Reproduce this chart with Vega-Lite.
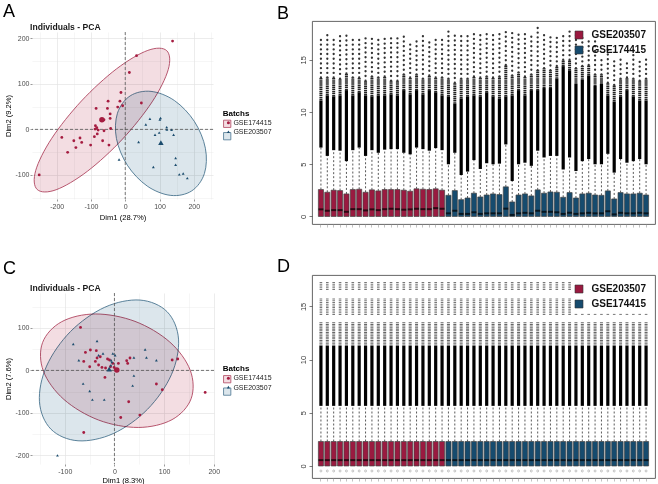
{
  "$schema": "https://vega.github.io/schema/vega-lite/v6.json",
  "background": "white",
  "padding": {"left": 2, "top": 3, "right": 0, "bottom": 0},
  "config": {
    "font": "Liberation Sans",
    "locale": {"number": {"decimal": ".", "thousands": ",", "grouping": [3], "currency": ["$", ""], "minus": "-"}},
    "view": {"stroke": null},
    "title": {"font": "Liberation Sans", "color": "#000"},
    "axis": {"labelFont": "Liberation Sans", "titleFont": "Liberation Sans"},
    "legend": {"labelFont": "Liberation Sans", "titleFont": "Liberation Sans"}
  },
  "datasets": {
    "origin": [{"x0": 0, "y0": 0}],
    "pcaA": [
      {"dim1": 138, "dim2": 194, "batch": "GSE174415", "kind": "ind"},
      {"dim1": 33, "dim2": 162, "batch": "GSE174415", "kind": "ind"},
      {"dim1": 12, "dim2": 125, "batch": "GSE174415", "kind": "ind"},
      {"dim1": -12.5, "dim2": 81, "batch": "GSE174415", "kind": "ind"},
      {"dim1": -50, "dim2": 62, "batch": "GSE174415", "kind": "ind"},
      {"dim1": -15.5, "dim2": 62, "batch": "GSE174415", "kind": "ind"},
      {"dim1": 47, "dim2": 58, "batch": "GSE174415", "kind": "ind"},
      {"dim1": -7.6, "dim2": 52, "batch": "GSE174415", "kind": "ind"},
      {"dim1": -22, "dim2": 49, "batch": "GSE174415", "kind": "ind"},
      {"dim1": -85, "dim2": 46, "batch": "GSE174415", "kind": "ind"},
      {"dim1": -52, "dim2": 46, "batch": "GSE174415", "kind": "ind"},
      {"dim1": -44, "dim2": 34, "batch": "GSE174415", "kind": "ind"},
      {"dim1": -62, "dim2": 21, "batch": "GSE174415", "kind": "ind"},
      {"dim1": -70, "dim2": 20, "batch": "GSE174415", "kind": "ind"},
      {"dim1": -44, "dim2": 24, "batch": "GSE174415", "kind": "ind"},
      {"dim1": -87, "dim2": 8, "batch": "GSE174415", "kind": "ind"},
      {"dim1": -83, "dim2": 3.5, "batch": "GSE174415", "kind": "ind"},
      {"dim1": -88, "dim2": 0.7, "batch": "GSE174415", "kind": "ind"},
      {"dim1": -79, "dim2": -1.5, "batch": "GSE174415", "kind": "ind"},
      {"dim1": -42.6, "dim2": 2, "batch": "GSE174415", "kind": "ind"},
      {"dim1": -62, "dim2": -3, "batch": "GSE174415", "kind": "ind"},
      {"dim1": -81.6, "dim2": -10, "batch": "GSE174415", "kind": "ind"},
      {"dim1": -185, "dim2": -17.6, "batch": "GSE174415", "kind": "ind"},
      {"dim1": -132, "dim2": -19, "batch": "GSE174415", "kind": "ind"},
      {"dim1": -150, "dim2": -25, "batch": "GSE174415", "kind": "ind"},
      {"dim1": -127, "dim2": -28.6, "batch": "GSE174415", "kind": "ind"},
      {"dim1": -90, "dim2": -16, "batch": "GSE174415", "kind": "ind"},
      {"dim1": -66, "dim2": -25, "batch": "GSE174415", "kind": "ind"},
      {"dim1": -101, "dim2": -34.5, "batch": "GSE174415", "kind": "ind"},
      {"dim1": -47.5, "dim2": -34.5, "batch": "GSE174415", "kind": "ind"},
      {"dim1": -144, "dim2": -40, "batch": "GSE174415", "kind": "ind"},
      {"dim1": -168, "dim2": -50.5, "batch": "GSE174415", "kind": "ind"},
      {"dim1": -251, "dim2": -100, "batch": "GSE174415", "kind": "ind"},
      {"dim1": -68, "dim2": 21, "batch": "GSE174415", "kind": "mean"},
      {"dim1": 72, "dim2": 22.6, "batch": "GSE203507", "kind": "ind"},
      {"dim1": 103, "dim2": 24, "batch": "GSE203507", "kind": "ind"},
      {"dim1": 101, "dim2": 21, "batch": "GSE203507", "kind": "ind"},
      {"dim1": 60, "dim2": 10, "batch": "GSE203507", "kind": "ind"},
      {"dim1": 121, "dim2": 4, "batch": "GSE203507", "kind": "ind"},
      {"dim1": 121.5, "dim2": -1, "batch": "GSE203507", "kind": "ind"},
      {"dim1": 135, "dim2": -1.5, "batch": "GSE203507", "kind": "ind"},
      {"dim1": 99, "dim2": -8, "batch": "GSE203507", "kind": "ind"},
      {"dim1": 87, "dim2": -12.5, "batch": "GSE203507", "kind": "ind"},
      {"dim1": 141, "dim2": -12.5, "batch": "GSE203507", "kind": "ind"},
      {"dim1": 39, "dim2": -28.6, "batch": "GSE203507", "kind": "ind"},
      {"dim1": -18, "dim2": -67, "batch": "GSE203507", "kind": "ind"},
      {"dim1": 147, "dim2": -64, "batch": "GSE203507", "kind": "ind"},
      {"dim1": 82, "dim2": -83.5, "batch": "GSE203507", "kind": "ind"},
      {"dim1": 147, "dim2": -78.5, "batch": "GSE203507", "kind": "ind"},
      {"dim1": 157.6, "dim2": -99.8, "batch": "GSE203507", "kind": "ind"},
      {"dim1": 169, "dim2": -98, "batch": "GSE203507", "kind": "ind"},
      {"dim1": 181, "dim2": -108, "batch": "GSE203507", "kind": "ind"},
      {"dim1": 104, "dim2": -31, "batch": "GSE203507", "kind": "mean"}
    ],
    "ellA": [
      {"batch": "GSE174415", "k": 0, "dim1": 121, "dim2": 173},
      {"batch": "GSE174415", "k": 1, "dim1": 125.4, "dim2": 131.4},
      {"batch": "GSE174415", "k": 2, "dim1": 78.4, "dim2": 60.4},
      {"batch": "GSE174415", "k": 3, "dim1": -8.2, "dim2": -21.5},
      {"batch": "GSE174415", "k": 4, "dim1": -110.5, "dim2": -92.1},
      {"batch": "GSE174415", "k": 5, "dim1": -201.7, "dim2": -132.7},
      {"batch": "GSE174415", "k": 6, "dim1": -256.9, "dim2": -132.1},
      {"batch": "GSE174415", "k": 7, "dim1": -261.2, "dim2": -90.5},
      {"batch": "GSE174415", "k": 8, "dim1": -214.3, "dim2": -19.6},
      {"batch": "GSE174415", "k": 9, "dim1": -127.7, "dim2": 62.4},
      {"batch": "GSE174415", "k": 10, "dim1": -25.4, "dim2": 133},
      {"batch": "GSE174415", "k": 11, "dim1": 65.9, "dim2": 173.6},
      {"batch": "GSE203507", "k": 0, "dim1": 193.9, "dim2": -135.2},
      {"batch": "GSE203507", "k": 1, "dim1": 132.9, "dim2": -145.1},
      {"batch": "GSE203507", "k": 2, "dim1": 64.1, "dim2": -124.6},
      {"batch": "GSE203507", "k": 3, "dim1": 6.1, "dim2": -78.7},
      {"batch": "GSE203507", "k": 4, "dim1": -25.7, "dim2": -20},
      {"batch": "GSE203507", "k": 5, "dim1": -22.7, "dim2": 35.6},
      {"batch": "GSE203507", "k": 6, "dim1": 14.3, "dim2": 73.6},
      {"batch": "GSE203507", "k": 7, "dim1": 75.2, "dim2": 83.5},
      {"batch": "GSE203507", "k": 8, "dim1": 144, "dim2": 63.1},
      {"batch": "GSE203507", "k": 9, "dim1": 202, "dim2": 17.1},
      {"batch": "GSE203507", "k": 10, "dim1": 233.8, "dim2": -41.5},
      {"batch": "GSE203507", "k": 11, "dim1": 230.9, "dim2": -97.1}
    ],
    "pcaC": [
      {"dim1": -68.3, "dim2": 101, "batch": "GSE174415", "kind": "ind"},
      {"dim1": -58.4, "dim2": 42.4, "batch": "GSE174415", "kind": "ind"},
      {"dim1": -48.4, "dim2": 48, "batch": "GSE174415", "kind": "ind"},
      {"dim1": -36.5, "dim2": 46.4, "batch": "GSE174415", "kind": "ind"},
      {"dim1": -61.8, "dim2": 21.2, "batch": "GSE174415", "kind": "ind"},
      {"dim1": -49.8, "dim2": 8.7, "batch": "GSE174415", "kind": "ind"},
      {"dim1": -38.4, "dim2": 21.2, "batch": "GSE174415", "kind": "ind"},
      {"dim1": -35, "dim2": 29.2, "batch": "GSE174415", "kind": "ind"},
      {"dim1": -28.5, "dim2": 32.2, "batch": "GSE174415", "kind": "ind"},
      {"dim1": -31.9, "dim2": 12.7, "batch": "GSE174415", "kind": "ind"},
      {"dim1": -25.1, "dim2": 7.1, "batch": "GSE174415", "kind": "ind"},
      {"dim1": -13.9, "dim2": 26.8, "batch": "GSE174415", "kind": "ind"},
      {"dim1": -10, "dim2": 24.5, "batch": "GSE174415", "kind": "ind"},
      {"dim1": -17.9, "dim2": 5.6, "batch": "GSE174415", "kind": "ind"},
      {"dim1": -8, "dim2": 8.7, "batch": "GSE174415", "kind": "ind"},
      {"dim1": -3.2, "dim2": 16.5, "batch": "GSE174415", "kind": "ind"},
      {"dim1": 8, "dim2": 16.5, "batch": "GSE174415", "kind": "ind"},
      {"dim1": -0.6, "dim2": 7.1, "batch": "GSE174415", "kind": "ind"},
      {"dim1": -19.1, "dim2": -16.5, "batch": "GSE174415", "kind": "ind"},
      {"dim1": 24.7, "dim2": 22.8, "batch": "GSE174415", "kind": "ind"},
      {"dim1": 26.7, "dim2": 16.5, "batch": "GSE174415", "kind": "ind"},
      {"dim1": 31.3, "dim2": 29.2, "batch": "GSE174415", "kind": "ind"},
      {"dim1": 116.3, "dim2": 24.5, "batch": "GSE174415", "kind": "ind"},
      {"dim1": 127.5, "dim2": 26.8, "batch": "GSE174415", "kind": "ind"},
      {"dim1": 84.5, "dim2": -32, "batch": "GSE174415", "kind": "ind"},
      {"dim1": 96.4, "dim2": -45.4, "batch": "GSE174415", "kind": "ind"},
      {"dim1": 28.7, "dim2": -73.6, "batch": "GSE174415", "kind": "ind"},
      {"dim1": 12.7, "dim2": -110.6, "batch": "GSE174415", "kind": "ind"},
      {"dim1": 51.2, "dim2": -105, "batch": "GSE174415", "kind": "ind"},
      {"dim1": 182.7, "dim2": -51.8, "batch": "GSE174415", "kind": "ind"},
      {"dim1": -61.8, "dim2": -145.9, "batch": "GSE174415", "kind": "ind"},
      {"dim1": 4.8, "dim2": 1, "batch": "GSE174415", "kind": "mean"},
      {"dim1": -82.9, "dim2": 61, "batch": "GSE203507", "kind": "ind"},
      {"dim1": -35, "dim2": 68.2, "batch": "GSE203507", "kind": "ind"},
      {"dim1": -71.7, "dim2": 22.8, "batch": "GSE203507", "kind": "ind"},
      {"dim1": -31.9, "dim2": 34.6, "batch": "GSE203507", "kind": "ind"},
      {"dim1": -23, "dim2": 38.6, "batch": "GSE203507", "kind": "ind"},
      {"dim1": -3.2, "dim2": 38.6, "batch": "GSE203507", "kind": "ind"},
      {"dim1": 1.4, "dim2": 34.6, "batch": "GSE203507", "kind": "ind"},
      {"dim1": -6.6, "dim2": 22.8, "batch": "GSE203507", "kind": "ind"},
      {"dim1": -5.2, "dim2": 18.8, "batch": "GSE203507", "kind": "ind"},
      {"dim1": -7.2, "dim2": 11, "batch": "GSE203507", "kind": "ind"},
      {"dim1": 39.2, "dim2": 29.2, "batch": "GSE203507", "kind": "ind"},
      {"dim1": 61.8, "dim2": 48, "batch": "GSE203507", "kind": "ind"},
      {"dim1": 64.5, "dim2": 29.2, "batch": "GSE203507", "kind": "ind"},
      {"dim1": 84.5, "dim2": 22.8, "batch": "GSE203507", "kind": "ind"},
      {"dim1": -63, "dim2": -32, "batch": "GSE203507", "kind": "ind"},
      {"dim1": -49.8, "dim2": -49.4, "batch": "GSE203507", "kind": "ind"},
      {"dim1": -44.4, "dim2": -69.6, "batch": "GSE203507", "kind": "ind"},
      {"dim1": -20.5, "dim2": -69.6, "batch": "GSE203507", "kind": "ind"},
      {"dim1": 39.2, "dim2": -13.2, "batch": "GSE203507", "kind": "ind"},
      {"dim1": 36.7, "dim2": -36.7, "batch": "GSE203507", "kind": "ind"},
      {"dim1": -114.7, "dim2": -200.7, "batch": "GSE203507", "kind": "ind"},
      {"dim1": -10.6, "dim2": 1, "batch": "GSE203507", "kind": "mean"}
    ],
    "ellC": [
      {"batch": "GSE174415", "k": 0, "dim1": 154.4, "dim2": -66.6},
      {"batch": "GSE174415", "k": 1, "dim1": 115.9, "dim2": -115.8},
      {"batch": "GSE174415", "k": 2, "dim1": 48, "dim2": -134.1},
      {"batch": "GSE174415", "k": 3, "dim1": -31.9, "dim2": -116.7},
      {"batch": "GSE174415", "k": 4, "dim1": -101.8, "dim2": -68.2},
      {"batch": "GSE174415", "k": 5, "dim1": -143, "dim2": -1.9},
      {"batch": "GSE174415", "k": 6, "dim1": -144.8, "dim2": 65.2},
      {"batch": "GSE174415", "k": 7, "dim1": -106.4, "dim2": 114.4},
      {"batch": "GSE174415", "k": 8, "dim1": -38.4, "dim2": 132.7},
      {"batch": "GSE174415", "k": 9, "dim1": 41.4, "dim2": 115.3},
      {"batch": "GSE174415", "k": 10, "dim1": 111.4, "dim2": 66.8},
      {"batch": "GSE174415", "k": 11, "dim1": 152.6, "dim2": 0.5},
      {"batch": "GSE203507", "k": 0, "dim1": 106, "dim2": 138.1},
      {"batch": "GSE203507", "k": 1, "dim1": 129.1, "dim2": 73.6},
      {"batch": "GSE203507", "k": 2, "dim1": 114.7, "dim2": -10.1},
      {"batch": "GSE203507", "k": 3, "dim1": 66.5, "dim2": -91.5},
      {"batch": "GSE203507", "k": 4, "dim1": -2.4, "dim2": -148.5},
      {"batch": "GSE203507", "k": 5, "dim1": -73.3, "dim2": -165.4},
      {"batch": "GSE203507", "k": 6, "dim1": -127.9, "dim2": -138.1},
      {"batch": "GSE203507", "k": 7, "dim1": -151, "dim2": -73.6},
      {"batch": "GSE203507", "k": 8, "dim1": -136.7, "dim2": 10.1},
      {"batch": "GSE203507", "k": 9, "dim1": -88.4, "dim2": 91.5},
      {"batch": "GSE203507", "k": 10, "dim1": -19.5, "dim2": 148.5},
      {"batch": "GSE203507", "k": 11, "dim1": 51.4, "dim2": 165.4}
    ],
    "boxB": [
      {"idx": 1, "batch": "GSE203507", "q1": 0, "med": 0.68, "q3": 2.58, "whisker": 6.6, "dense": 11.1, "mid": 13.3, "top": 17.2},
      {"idx": 2, "batch": "GSE203507", "q1": 0, "med": 0.55, "q3": 2.32, "whisker": 5.8, "dense": 11.6, "mid": 13.3, "top": 17.4},
      {"idx": 3, "batch": "GSE203507", "q1": 0, "med": 0.61, "q3": 2.52, "whisker": 6.35, "dense": 11.5, "mid": 13.3, "top": 17.3},
      {"idx": 4, "batch": "GSE203507", "q1": 0, "med": 0.61, "q3": 2.48, "whisker": 6.3, "dense": 11.6, "mid": 13.2, "top": 17.5},
      {"idx": 5, "batch": "GSE203507", "q1": 0, "med": 0.45, "q3": 2.16, "whisker": 5.3, "dense": 12.1, "mid": 13.7, "top": 17.5},
      {"idx": 6, "batch": "GSE203507", "q1": 0, "med": 0.7, "q3": 2.58, "whisker": 6.35, "dense": 11.6, "mid": 13.3, "top": 17.1},
      {"idx": 7, "batch": "GSE203507", "q1": 0, "med": 0.7, "q3": 2.61, "whisker": 6.6, "dense": 11.9, "mid": 13.3, "top": 17.1},
      {"idx": 8, "batch": "GSE203507", "q1": 0, "med": 0.58, "q3": 2.32, "whisker": 5.8, "dense": 11.6, "mid": 13.0, "top": 17.4},
      {"idx": 9, "batch": "GSE203507", "q1": 0, "med": 0.68, "q3": 2.55, "whisker": 6.35, "dense": 11.5, "mid": 13.4, "top": 17.4},
      {"idx": 10, "batch": "GSE203507", "q1": 0, "med": 0.61, "q3": 2.45, "whisker": 6.1, "dense": 11.6, "mid": 13.3, "top": 17.2},
      {"idx": 11, "batch": "GSE203507", "q1": 0, "med": 0.7, "q3": 2.58, "whisker": 6.4, "dense": 11.6, "mid": 13.4, "top": 17.1},
      {"idx": 12, "batch": "GSE203507", "q1": 0, "med": 0.74, "q3": 2.58, "whisker": 6.45, "dense": 11.7, "mid": 13.0, "top": 17.1},
      {"idx": 13, "batch": "GSE203507", "q1": 0, "med": 0.7, "q3": 2.58, "whisker": 6.45, "dense": 11.6, "mid": 13.0, "top": 17.1},
      {"idx": 14, "batch": "GSE203507", "q1": 0, "med": 0.65, "q3": 2.52, "whisker": 6.1, "dense": 12.1, "mid": 13.6, "top": 17.6},
      {"idx": 15, "batch": "GSE203507", "q1": 0, "med": 0.68, "q3": 2.42, "whisker": 5.95, "dense": 11.7, "mid": 13.3, "top": 16.9},
      {"idx": 16, "batch": "GSE203507", "q1": 0, "med": 0.74, "q3": 2.65, "whisker": 6.6, "dense": 12.1, "mid": 13.6, "top": 17.1},
      {"idx": 17, "batch": "GSE203507", "q1": 0, "med": 0.7, "q3": 2.61, "whisker": 6.45, "dense": 11.7, "mid": 13.2, "top": 17.3},
      {"idx": 18, "batch": "GSE203507", "q1": 0, "med": 0.7, "q3": 2.58, "whisker": 6.3, "dense": 12.1, "mid": 13.5, "top": 17.0},
      {"idx": 19, "batch": "GSE203507", "q1": 0, "med": 0.8, "q3": 2.65, "whisker": 6.55, "dense": 11.9, "mid": 13.3, "top": 17.2},
      {"idx": 20, "batch": "GSE203507", "q1": 0, "med": 0.74, "q3": 2.52, "whisker": 6.35, "dense": 11.6, "mid": 13.3, "top": 17.3},
      {"idx": 21, "batch": "GSE174415", "q1": 0, "med": 0.3, "q3": 2.03, "whisker": 5.0, "dense": 11.5, "mid": 13.2, "top": 17.8},
      {"idx": 22, "batch": "GSE174415", "q1": 0, "med": 0.55, "q3": 2.48, "whisker": 6.1, "dense": 10.8, "mid": 12.8, "top": 17.4},
      {"idx": 23, "batch": "GSE174415", "q1": 0, "med": 0.25, "q3": 1.61, "whisker": 3.97, "dense": 11.3, "mid": 13.2, "top": 17.6},
      {"idx": 24, "batch": "GSE174415", "q1": 0, "med": 0.25, "q3": 1.77, "whisker": 4.3, "dense": 11.5, "mid": 13.2, "top": 17.6},
      {"idx": 25, "batch": "GSE174415", "q1": 0, "med": 0.4, "q3": 2.23, "whisker": 5.4, "dense": 11.6, "mid": 13.4, "top": 17.6},
      {"idx": 26, "batch": "GSE174415", "q1": 0, "med": 0.25, "q3": 1.87, "whisker": 4.55, "dense": 11.5, "mid": 13.3, "top": 17.5},
      {"idx": 27, "batch": "GSE174415", "q1": 0, "med": 0.3, "q3": 2.06, "whisker": 5.1, "dense": 11.9, "mid": 13.4, "top": 17.5},
      {"idx": 28, "batch": "GSE174415", "q1": 0, "med": 0.3, "q3": 2.16, "whisker": 5.0, "dense": 11.5, "mid": 13.3, "top": 17.5},
      {"idx": 29, "batch": "GSE174415", "q1": 0, "med": 0.3, "q3": 2.1, "whisker": 5.06, "dense": 11.3, "mid": 13.4, "top": 17.8},
      {"idx": 30, "batch": "GSE174415", "q1": 0, "med": 0.75, "q3": 2.84, "whisker": 6.9, "dense": 11.5, "mid": 14.5, "top": 17.9},
      {"idx": 31, "batch": "GSE174415", "q1": 0, "med": 0.15, "q3": 1.39, "whisker": 3.4, "dense": 11.6, "mid": 13.5, "top": 17.7},
      {"idx": 32, "batch": "GSE174415", "q1": 0, "med": 0.3, "q3": 2.06, "whisker": 5.0, "dense": 12.1, "mid": 13.8, "top": 17.5},
      {"idx": 33, "batch": "GSE174415", "q1": 0, "med": 0.35, "q3": 2.16, "whisker": 5.15, "dense": 11.6, "mid": 13.4, "top": 17.5},
      {"idx": 34, "batch": "GSE174415", "q1": 0, "med": 0.3, "q3": 1.97, "whisker": 4.85, "dense": 12.1, "mid": 13.6, "top": 17.4},
      {"idx": 35, "batch": "GSE174415", "q1": 0, "med": 0.55, "q3": 2.55, "whisker": 6.3, "dense": 12.1, "mid": 14.0, "top": 18.2},
      {"idx": 36, "batch": "GSE174415", "q1": 0, "med": 0.45, "q3": 2.23, "whisker": 5.65, "dense": 12.3, "mid": 14.2, "top": 17.4},
      {"idx": 37, "batch": "GSE174415", "q1": 0, "med": 0.45, "q3": 2.35, "whisker": 5.8, "dense": 12.3, "mid": 14.0, "top": 17.5},
      {"idx": 38, "batch": "GSE174415", "q1": 0, "med": 0.4, "q3": 2.32, "whisker": 5.8, "dense": 13.2, "mid": 14.4, "top": 17.3},
      {"idx": 39, "batch": "GSE174415", "q1": 0, "med": 0.25, "q3": 1.84, "whisker": 4.5, "dense": 14.4, "mid": 15.0, "top": 17.7},
      {"idx": 40, "batch": "GSE174415", "q1": 0, "med": 0.35, "q3": 2.29, "whisker": 5.65, "dense": 14.0, "mid": 15.0, "top": 17.8},
      {"idx": 41, "batch": "GSE174415", "q1": 0, "med": 0.25, "q3": 1.77, "whisker": 4.35, "dense": 12.7, "mid": 14.2, "top": 17.4},
      {"idx": 42, "batch": "GSE174415", "q1": 0, "med": 0.3, "q3": 2.16, "whisker": 5.3, "dense": 13.1, "mid": 14.4, "top": 17.5},
      {"idx": 43, "batch": "GSE174415", "q1": 0, "med": 0.35, "q3": 2.23, "whisker": 5.5, "dense": 13.5, "mid": 14.5, "top": 16.9},
      {"idx": 44, "batch": "GSE174415", "q1": 0, "med": 0.3, "q3": 2.06, "whisker": 5.0, "dense": 12.5, "mid": 13.6, "top": 17.1},
      {"idx": 45, "batch": "GSE174415", "q1": 0, "med": 0.3, "q3": 2.03, "whisker": 5.0, "dense": 12.7, "mid": 13.6, "top": 15.3},
      {"idx": 46, "batch": "GSE174415", "q1": 0, "med": 0.5, "q3": 2.45, "whisker": 6.0, "dense": 11.6, "mid": 12.8, "top": 16.0},
      {"idx": 47, "batch": "GSE174415", "q1": 0, "med": 0.2, "q3": 1.68, "whisker": 4.2, "dense": 11.0, "mid": 12.6, "top": 15.1},
      {"idx": 48, "batch": "GSE174415", "q1": 0, "med": 0.35, "q3": 2.29, "whisker": 5.5, "dense": 11.5, "mid": 13.2, "top": 15.1},
      {"idx": 49, "batch": "GSE174415", "q1": 0, "med": 0.3, "q3": 2.16, "whisker": 5.15, "dense": 12.1, "mid": 13.3, "top": 15.1},
      {"idx": 50, "batch": "GSE174415", "q1": 0, "med": 0.3, "q3": 2.16, "whisker": 5.3, "dense": 11.5, "mid": 13.2, "top": 16.0},
      {"idx": 51, "batch": "GSE174415", "q1": 0, "med": 0.35, "q3": 2.23, "whisker": 5.5, "dense": 11.1, "mid": 13.0, "top": 15.1},
      {"idx": 52, "batch": "GSE174415", "q1": 0, "med": 0.3, "q3": 2.06, "whisker": 5.0, "dense": 11.1, "mid": 13.2, "top": 15.2}
    ],
    "boxD": [
      {"idx": 1, "batch": "GSE203507", "q1": 0, "med": 0.55, "q3": 2.3, "whisker": 5.65, "dense": 11.3, "grey": 13.55, "o2lo": 14.2, "o2hi": 15.75, "o3lo": 16.55, "o3hi": 17.3, "low": -0.47},
      {"idx": 2, "batch": "GSE203507", "q1": 0, "med": 0.55, "q3": 2.3, "whisker": 5.65, "dense": 11.3, "grey": 13.55, "o2lo": 14.2, "o2hi": 15.75, "o3lo": 16.55, "o3hi": 17.3, "low": -0.47},
      {"idx": 3, "batch": "GSE203507", "q1": 0, "med": 0.55, "q3": 2.3, "whisker": 5.65, "dense": 11.3, "grey": 13.55, "o2lo": 14.2, "o2hi": 15.75, "o3lo": 16.55, "o3hi": 17.3, "low": -0.47},
      {"idx": 4, "batch": "GSE203507", "q1": 0, "med": 0.55, "q3": 2.3, "whisker": 5.65, "dense": 11.3, "grey": 13.55, "o2lo": 14.2, "o2hi": 15.75, "o3lo": 16.55, "o3hi": 17.3, "low": -0.47},
      {"idx": 5, "batch": "GSE203507", "q1": 0, "med": 0.55, "q3": 2.3, "whisker": 5.65, "dense": 11.3, "grey": 13.55, "o2lo": 14.2, "o2hi": 15.75, "o3lo": 16.55, "o3hi": 17.3, "low": -0.47},
      {"idx": 6, "batch": "GSE203507", "q1": 0, "med": 0.55, "q3": 2.3, "whisker": 5.65, "dense": 11.3, "grey": 13.55, "o2lo": 14.2, "o2hi": 15.75, "o3lo": 16.55, "o3hi": 17.3, "low": -0.47},
      {"idx": 7, "batch": "GSE203507", "q1": 0, "med": 0.55, "q3": 2.3, "whisker": 5.65, "dense": 11.3, "grey": 13.55, "o2lo": 14.2, "o2hi": 15.75, "o3lo": 16.55, "o3hi": 17.3, "low": -0.47},
      {"idx": 8, "batch": "GSE203507", "q1": 0, "med": 0.55, "q3": 2.3, "whisker": 5.65, "dense": 11.3, "grey": 13.55, "o2lo": 14.2, "o2hi": 15.75, "o3lo": 16.55, "o3hi": 17.3, "low": -0.47},
      {"idx": 9, "batch": "GSE203507", "q1": 0, "med": 0.55, "q3": 2.3, "whisker": 5.65, "dense": 11.3, "grey": 13.55, "o2lo": 14.2, "o2hi": 15.75, "o3lo": 16.55, "o3hi": 17.3, "low": -0.47},
      {"idx": 10, "batch": "GSE203507", "q1": 0, "med": 0.55, "q3": 2.3, "whisker": 5.65, "dense": 11.3, "grey": 13.55, "o2lo": 14.2, "o2hi": 15.75, "o3lo": 16.55, "o3hi": 17.3, "low": -0.47},
      {"idx": 11, "batch": "GSE203507", "q1": 0, "med": 0.55, "q3": 2.3, "whisker": 5.65, "dense": 11.3, "grey": 13.55, "o2lo": 14.2, "o2hi": 15.75, "o3lo": 16.55, "o3hi": 17.3, "low": -0.47},
      {"idx": 12, "batch": "GSE203507", "q1": 0, "med": 0.55, "q3": 2.3, "whisker": 5.65, "dense": 11.3, "grey": 13.55, "o2lo": 14.2, "o2hi": 15.75, "o3lo": 16.55, "o3hi": 17.3, "low": -0.47},
      {"idx": 13, "batch": "GSE203507", "q1": 0, "med": 0.55, "q3": 2.3, "whisker": 5.65, "dense": 11.3, "grey": 13.55, "o2lo": 14.2, "o2hi": 15.75, "o3lo": 16.55, "o3hi": 17.3, "low": -0.47},
      {"idx": 14, "batch": "GSE203507", "q1": 0, "med": 0.55, "q3": 2.3, "whisker": 5.65, "dense": 11.3, "grey": 13.55, "o2lo": 14.2, "o2hi": 15.75, "o3lo": 16.55, "o3hi": 17.3, "low": -0.47},
      {"idx": 15, "batch": "GSE203507", "q1": 0, "med": 0.55, "q3": 2.3, "whisker": 5.65, "dense": 11.3, "grey": 13.55, "o2lo": 14.2, "o2hi": 15.75, "o3lo": 16.55, "o3hi": 17.3, "low": -0.47},
      {"idx": 16, "batch": "GSE203507", "q1": 0, "med": 0.55, "q3": 2.3, "whisker": 5.65, "dense": 11.3, "grey": 13.55, "o2lo": 14.2, "o2hi": 15.75, "o3lo": 16.55, "o3hi": 17.3, "low": -0.47},
      {"idx": 17, "batch": "GSE203507", "q1": 0, "med": 0.55, "q3": 2.3, "whisker": 5.65, "dense": 11.3, "grey": 13.55, "o2lo": 14.2, "o2hi": 15.75, "o3lo": 16.55, "o3hi": 17.3, "low": -0.47},
      {"idx": 18, "batch": "GSE203507", "q1": 0, "med": 0.55, "q3": 2.3, "whisker": 5.65, "dense": 11.3, "grey": 13.55, "o2lo": 14.2, "o2hi": 15.75, "o3lo": 16.55, "o3hi": 17.3, "low": -0.47},
      {"idx": 19, "batch": "GSE203507", "q1": 0, "med": 0.55, "q3": 2.3, "whisker": 5.65, "dense": 11.3, "grey": 13.55, "o2lo": 14.2, "o2hi": 15.75, "o3lo": 16.55, "o3hi": 17.3, "low": -0.47},
      {"idx": 20, "batch": "GSE203507", "q1": 0, "med": 0.55, "q3": 2.3, "whisker": 5.65, "dense": 11.3, "grey": 13.55, "o2lo": 14.2, "o2hi": 15.75, "o3lo": 16.55, "o3hi": 17.3, "low": -0.47},
      {"idx": 21, "batch": "GSE174415", "q1": 0, "med": 0.55, "q3": 2.3, "whisker": 5.65, "dense": 11.3, "grey": 13.55, "o2lo": 14.2, "o2hi": 15.75, "o3lo": 16.55, "o3hi": 17.3, "low": -0.47},
      {"idx": 22, "batch": "GSE174415", "q1": 0, "med": 0.55, "q3": 2.3, "whisker": 5.65, "dense": 11.3, "grey": 13.55, "o2lo": 14.2, "o2hi": 15.75, "o3lo": 16.55, "o3hi": 17.3, "low": -0.47},
      {"idx": 23, "batch": "GSE174415", "q1": 0, "med": 0.55, "q3": 2.3, "whisker": 5.65, "dense": 11.3, "grey": 13.55, "o2lo": 14.2, "o2hi": 15.75, "o3lo": 16.55, "o3hi": 17.3, "low": -0.47},
      {"idx": 24, "batch": "GSE174415", "q1": 0, "med": 0.55, "q3": 2.3, "whisker": 5.65, "dense": 11.3, "grey": 13.55, "o2lo": 14.2, "o2hi": 15.75, "o3lo": 16.55, "o3hi": 17.3, "low": -0.47},
      {"idx": 25, "batch": "GSE174415", "q1": 0, "med": 0.55, "q3": 2.3, "whisker": 5.65, "dense": 11.3, "grey": 13.55, "o2lo": 14.2, "o2hi": 15.75, "o3lo": 16.55, "o3hi": 17.3, "low": -0.47},
      {"idx": 26, "batch": "GSE174415", "q1": 0, "med": 0.55, "q3": 2.3, "whisker": 5.65, "dense": 11.3, "grey": 13.55, "o2lo": 14.2, "o2hi": 15.75, "o3lo": 16.55, "o3hi": 17.3, "low": -0.47},
      {"idx": 27, "batch": "GSE174415", "q1": 0, "med": 0.55, "q3": 2.3, "whisker": 5.65, "dense": 11.3, "grey": 13.55, "o2lo": 14.2, "o2hi": 15.75, "o3lo": 16.55, "o3hi": 17.3, "low": -0.47},
      {"idx": 28, "batch": "GSE174415", "q1": 0, "med": 0.55, "q3": 2.3, "whisker": 5.65, "dense": 11.3, "grey": 13.55, "o2lo": 14.2, "o2hi": 15.75, "o3lo": 16.55, "o3hi": 17.3, "low": -0.47},
      {"idx": 29, "batch": "GSE174415", "q1": 0, "med": 0.55, "q3": 2.3, "whisker": 5.65, "dense": 11.3, "grey": 13.55, "o2lo": 14.2, "o2hi": 15.75, "o3lo": 16.55, "o3hi": 17.3, "low": -0.47},
      {"idx": 30, "batch": "GSE174415", "q1": 0, "med": 0.55, "q3": 2.3, "whisker": 5.65, "dense": 11.3, "grey": 13.55, "o2lo": 14.2, "o2hi": 15.75, "o3lo": 16.55, "o3hi": 17.3, "low": -0.47},
      {"idx": 31, "batch": "GSE174415", "q1": 0, "med": 0.55, "q3": 2.3, "whisker": 5.65, "dense": 11.3, "grey": 13.55, "o2lo": 14.2, "o2hi": 15.75, "o3lo": 16.55, "o3hi": 17.3, "low": -0.47},
      {"idx": 32, "batch": "GSE174415", "q1": 0, "med": 0.55, "q3": 2.3, "whisker": 5.65, "dense": 11.3, "grey": 13.55, "o2lo": 14.2, "o2hi": 15.75, "o3lo": 16.55, "o3hi": 17.3, "low": -0.47},
      {"idx": 33, "batch": "GSE174415", "q1": 0, "med": 0.55, "q3": 2.3, "whisker": 5.65, "dense": 11.3, "grey": 13.55, "o2lo": 14.2, "o2hi": 15.75, "o3lo": 16.55, "o3hi": 17.3, "low": -0.47},
      {"idx": 34, "batch": "GSE174415", "q1": 0, "med": 0.55, "q3": 2.3, "whisker": 5.65, "dense": 11.3, "grey": 13.55, "o2lo": 14.2, "o2hi": 15.75, "o3lo": 16.55, "o3hi": 17.3, "low": -0.47},
      {"idx": 35, "batch": "GSE174415", "q1": 0, "med": 0.55, "q3": 2.3, "whisker": 5.65, "dense": 11.3, "grey": 13.55, "o2lo": 14.2, "o2hi": 15.75, "o3lo": 16.55, "o3hi": 17.3, "low": -0.47},
      {"idx": 36, "batch": "GSE174415", "q1": 0, "med": 0.55, "q3": 2.3, "whisker": 5.65, "dense": 11.3, "grey": 13.55, "o2lo": 14.2, "o2hi": 15.75, "o3lo": 16.55, "o3hi": 17.3, "low": -0.47},
      {"idx": 37, "batch": "GSE174415", "q1": 0, "med": 0.55, "q3": 2.3, "whisker": 5.65, "dense": 11.3, "grey": 13.55, "o2lo": 14.2, "o2hi": 15.75, "o3lo": 16.55, "o3hi": 17.3, "low": -0.47},
      {"idx": 38, "batch": "GSE174415", "q1": 0, "med": 0.55, "q3": 2.3, "whisker": 5.65, "dense": 11.3, "grey": 13.55, "o2lo": 14.2, "o2hi": 15.75, "o3lo": 16.55, "o3hi": 17.3, "low": -0.47},
      {"idx": 39, "batch": "GSE174415", "q1": 0, "med": 0.55, "q3": 2.3, "whisker": 5.65, "dense": 11.3, "grey": 13.55, "o2lo": 14.2, "o2hi": 15.75, "o3lo": 16.55, "o3hi": 17.3, "low": -0.47},
      {"idx": 40, "batch": "GSE174415", "q1": 0, "med": 0.55, "q3": 2.3, "whisker": 5.65, "dense": 11.3, "grey": 13.55, "o2lo": 14.2, "o2hi": 15.75, "o3lo": 16.55, "o3hi": 17.3, "low": -0.47},
      {"idx": 41, "batch": "GSE174415", "q1": 0, "med": 0.55, "q3": 2.3, "whisker": 5.65, "dense": 11.3, "grey": 13.55, "o2lo": 14.2, "o2hi": 14.3, "low": -0.47},
      {"idx": 42, "batch": "GSE174415", "q1": 0, "med": 0.55, "q3": 2.3, "whisker": 5.65, "dense": 11.3, "grey": 13.55, "o2lo": 14.2, "o2hi": 14.3, "low": -0.47},
      {"idx": 43, "batch": "GSE174415", "q1": 0, "med": 0.55, "q3": 2.3, "whisker": 5.65, "dense": 11.3, "grey": 13.55, "o2lo": 14.2, "o2hi": 14.3, "low": -0.47},
      {"idx": 44, "batch": "GSE174415", "q1": 0, "med": 0.55, "q3": 2.3, "whisker": 5.65, "dense": 11.3, "grey": 13.55, "o2lo": 14.2, "o2hi": 14.3, "low": -0.47},
      {"idx": 45, "batch": "GSE174415", "q1": 0, "med": 0.55, "q3": 2.3, "whisker": 5.65, "dense": 11.3, "grey": 13.55, "o2lo": 14.2, "o2hi": 14.3, "low": -0.47},
      {"idx": 46, "batch": "GSE174415", "q1": 0, "med": 0.55, "q3": 2.3, "whisker": 5.65, "dense": 11.3, "grey": 13.55, "o2lo": 14.2, "o2hi": 14.3, "low": -0.47},
      {"idx": 47, "batch": "GSE174415", "q1": 0, "med": 0.55, "q3": 2.3, "whisker": 5.65, "dense": 11.3, "grey": 13.55, "o2lo": 14.2, "o2hi": 14.3, "low": -0.47},
      {"idx": 48, "batch": "GSE174415", "q1": 0, "med": 0.55, "q3": 2.3, "whisker": 5.65, "dense": 11.3, "grey": 13.55, "o2lo": 14.2, "o2hi": 14.3, "low": -0.47},
      {"idx": 49, "batch": "GSE174415", "q1": 0, "med": 0.55, "q3": 2.3, "whisker": 5.65, "dense": 11.3, "grey": 13.55, "o2lo": 14.2, "o2hi": 14.3, "low": -0.47},
      {"idx": 50, "batch": "GSE174415", "q1": 0, "med": 0.55, "q3": 2.3, "whisker": 5.65, "dense": 11.3, "grey": 13.55, "o2lo": 14.2, "o2hi": 14.3, "low": -0.47},
      {"idx": 51, "batch": "GSE174415", "q1": 0, "med": 0.55, "q3": 2.3, "whisker": 5.65, "dense": 11.3, "grey": 13.55, "o2lo": 14.2, "o2hi": 14.3, "low": -0.47},
      {"idx": 52, "batch": "GSE174415", "q1": 0, "med": 0.55, "q3": 2.3, "whisker": 5.65, "dense": 11.3, "grey": 13.55, "o2lo": 14.2, "o2hi": 14.3, "low": -0.47}
    ]
  },
  "spacing": 4,
  "resolve": {"scale": {"color": "independent", "fill": "independent", "stroke": "independent", "shape": "independent", "size": "independent"}},
  "hconcat": [
    {
      "spacing": 39,
      "resolve": {"scale": {"color": "independent", "fill": "independent", "stroke": "independent", "shape": "independent", "size": "independent"}},
      "vconcat": [
        {
          "title": {"text": "A", "anchor": "start", "frame": "bounds", "fontSize": 18, "fontWeight": "normal", "offset": 0, "dx": -2},
          "spacing": 1,
          "resolve": {"scale": {"color": "independent", "fill": "independent", "stroke": "independent", "shape": "independent", "size": "independent"}},
          "vconcat": [
            {"width": 181, "height": 1, "data": {"values": []}, "mark": "point"},
            {
              "width": 181,
              "height": 167,
              "title": {"text": "Individuals - PCA", "anchor": "start", "frame": "group", "fontSize": 8.6, "fontWeight": "bold", "offset": 0, "dx": -2, "color": "#1a1a1a"},
              "resolve": {"axis": {"x": "independent", "y": "independent"}},
              "layer": [
                {
                  "data": {"name": "ellA"},
                  "mark": {"type": "line", "interpolate": "cardinal-closed", "strokeWidth": 0.9, "blend": "multiply"},
                  "encoding": {
                    "x": {"field": "dim1", "type": "quantitative", "scale": {"domain": [-272, 256], "nice": false, "zero": false},
                      "axis": {"title": "Dim1 (28.7%)", "orient": "bottom", "values": [-200, -100, 0, 100, 200], "labelFlush": false,
                        "grid": true, "gridColor": "#e4e4e4", "gridWidth": 0.7, "domain": false, "tickColor": "#555", "tickSize": 2, "tickWidth": 0.6,
                        "labelFontSize": 7, "labelColor": "#4d4d4d", "labelPadding": 1,
                        "titleFontSize": 7.6, "titleFontWeight": "normal", "titleColor": "#000", "titlePadding": 4}},
                    "y": {"field": "dim2", "type": "quantitative", "scale": {"domain": [-153, 214], "nice": false, "zero": false},
                      "axis": {"title": "Dim2 (9.2%)", "orient": "left", "values": [-100, 0, 100, 200],
                        "grid": true, "gridColor": "#e4e4e4", "gridWidth": 0.7, "domain": false, "tickColor": "#555", "tickSize": 2, "tickWidth": 0.6,
                        "labelFontSize": 7, "labelColor": "#4d4d4d", "labelPadding": 1,
                        "titleFontSize": 7.6, "titleFontWeight": "normal", "titleColor": "#000", "titlePadding": 2}},
                    "order": {"field": "k", "type": "quantitative"},
                    "stroke": {"field": "batch", "type": "nominal", "scale": {"range": ["#B04560", "#4A7590"]},
                      "legend": {"title": "Batchs", "orient": "none", "legendX": 190.7, "legendY": 77.8, "symbolType": "square", "symbolSize": 53, "symbolStrokeWidth": 0.8, "labelExpr": "''", "labelFontSize": 7, "rowPadding": 1.4, "titleFontSize": 8, "titleFontWeight": "bold", "titleColor": "#000", "titlePadding": 1.5, "padding": 0}},
                    "fill": {"field": "batch", "type": "nominal", "scale": {"range": ["#F3DDE2", "#DCE6EC"]},
                      "legend": {"title": "Batchs", "orient": "none", "legendX": 190.7, "legendY": 77.8, "symbolType": "square", "symbolSize": 53, "symbolStrokeWidth": 0.8, "labelExpr": "''", "labelFontSize": 7, "rowPadding": 1.4, "titleFontSize": 8, "titleFontWeight": "bold", "titleColor": "#000", "titlePadding": 1.5, "padding": 0}}
                  }
                },
                {
                  "data": {"name": "origin"},
                  "mark": {"type": "rule", "strokeDash": [3, 2], "color": "#555", "strokeWidth": 0.8},
                  "encoding": {"y": {"field": "y0", "type": "quantitative",
                    "axis": {"orient": "right", "values": [-150, -50, 50, 150], "grid": true, "gridColor": "#e4e4e4", "gridWidth": 0.35, "ticks": false, "labels": false, "domain": false, "title": null}}}
                },
                {
                  "data": {"name": "origin"},
                  "mark": {"type": "rule", "strokeDash": [3, 2], "color": "#555", "strokeWidth": 0.8},
                  "encoding": {"x": {"field": "x0", "type": "quantitative",
                    "axis": {"orient": "top", "values": [-250, -150, -50, 50, 150, 250], "grid": true, "gridColor": "#e4e4e4", "gridWidth": 0.35, "ticks": false, "labels": false, "domain": false, "title": null}}}
                },
                {
                  "data": {"name": "pcaA"},
                  "mark": {"type": "point", "filled": true, "opacity": 1},
                  "encoding": {
                    "x": {"field": "dim1", "type": "quantitative", "axis": null},
                    "y": {"field": "dim2", "type": "quantitative", "axis": null},
                    "color": {"field": "batch", "type": "nominal", "scale": {"range": ["#A51C40", "#1B4C6E"]},
                      "legend": {"title": " ", "orient": "none", "legendX": 192.9, "legendY": 77.8, "symbolSize": 9, "symbolStrokeWidth": 0, "labelFontSize": 7, "labelColor": "#222", "labelOffset": 1.5, "rowPadding": 1.4, "titleFontSize": 8, "titleFontWeight": "bold", "titlePadding": 1.5, "padding": 0}},
                    "shape": {"field": "batch", "type": "nominal", "scale": {"range": ["circle", "triangle"]},
                      "legend": {"title": " ", "orient": "none", "legendX": 192.9, "legendY": 77.8, "symbolSize": 9, "symbolStrokeWidth": 0, "labelFontSize": 7, "labelColor": "#222", "labelOffset": 1.5, "rowPadding": 1.4, "titleFontSize": 8, "titleFontWeight": "bold", "titlePadding": 1.5, "padding": 0}},
                    "size": {"field": "kind", "type": "ordinal", "scale": {"domain": ["ind", "mean"], "range": [8, 30]}, "legend": null}
                  }
                }
              ]
            }
          ]
        },
        {
          "title": {"text": "C", "anchor": "start", "frame": "bounds", "fontSize": 18, "fontWeight": "normal", "offset": 0, "dx": -2},
          "spacing": 5,
          "resolve": {"scale": {"color": "independent", "fill": "independent", "stroke": "independent", "shape": "independent", "size": "independent"}},
          "vconcat": [
            {"width": 182, "height": 1, "data": {"values": []}, "mark": "point"},
            {
              "width": 182,
              "height": 171,
              "title": {"text": "Individuals - PCA", "anchor": "start", "frame": "group", "fontSize": 8.6, "fontWeight": "bold", "offset": 0, "dx": -2, "color": "#1a1a1a"},
              "resolve": {"axis": {"x": "independent", "y": "independent"}},
              "layer": [
                {
                  "data": {"name": "ellC"},
                  "mark": {"type": "line", "interpolate": "cardinal-closed", "strokeWidth": 0.9, "blend": "multiply"},
                  "encoding": {
                    "x": {"field": "dim1", "type": "quantitative", "scale": {"domain": [-166, 200.5], "nice": false, "zero": false},
                      "axis": {"title": "Dim1 (8.3%)", "orient": "bottom", "values": [-100, 0, 100, 200], "labelFlush": false,
                        "grid": true, "gridColor": "#e4e4e4", "gridWidth": 0.7, "domain": false, "tickColor": "#555", "tickSize": 2, "tickWidth": 0.6,
                        "labelFontSize": 7, "labelColor": "#4d4d4d", "labelPadding": 1,
                        "titleFontSize": 7.6, "titleFontWeight": "normal", "titleColor": "#000", "titlePadding": 2}},
                    "y": {"field": "dim2", "type": "quantitative", "scale": {"domain": [-220, 182], "nice": false, "zero": false},
                      "axis": {"title": "Dim2 (7.6%)", "orient": "left", "values": [-200, -100, 0, 100],
                        "grid": true, "gridColor": "#e4e4e4", "gridWidth": 0.7, "domain": false, "tickColor": "#555", "tickSize": 2, "tickWidth": 0.6,
                        "labelFontSize": 7, "labelColor": "#4d4d4d", "labelPadding": 1,
                        "titleFontSize": 7.6, "titleFontWeight": "normal", "titleColor": "#000", "titlePadding": 2}},
                    "order": {"field": "k", "type": "quantitative"},
                    "stroke": {"field": "batch", "type": "nominal", "scale": {"range": ["#B04560", "#4A7590"]},
                      "legend": {"title": "Batchs", "orient": "none", "legendX": 190.7, "legendY": 72.2, "symbolType": "square", "symbolSize": 53, "symbolStrokeWidth": 0.8, "labelExpr": "''", "labelFontSize": 7, "rowPadding": 1.4, "titleFontSize": 8, "titleFontWeight": "bold", "titleColor": "#000", "titlePadding": 1.5, "padding": 0}},
                    "fill": {"field": "batch", "type": "nominal", "scale": {"range": ["#F3DDE2", "#DCE6EC"]},
                      "legend": {"title": "Batchs", "orient": "none", "legendX": 190.7, "legendY": 72.2, "symbolType": "square", "symbolSize": 53, "symbolStrokeWidth": 0.8, "labelExpr": "''", "labelFontSize": 7, "rowPadding": 1.4, "titleFontSize": 8, "titleFontWeight": "bold", "titleColor": "#000", "titlePadding": 1.5, "padding": 0}}
                  }
                },
                {
                  "data": {"name": "origin"},
                  "mark": {"type": "rule", "strokeDash": [3, 2], "color": "#555", "strokeWidth": 0.8},
                  "encoding": {"y": {"field": "y0", "type": "quantitative",
                    "axis": {"orient": "right", "values": [-150, -50, 50, 150], "grid": true, "gridColor": "#e4e4e4", "gridWidth": 0.35, "ticks": false, "labels": false, "domain": false, "title": null}}}
                },
                {
                  "data": {"name": "origin"},
                  "mark": {"type": "rule", "strokeDash": [3, 2], "color": "#555", "strokeWidth": 0.8},
                  "encoding": {"x": {"field": "x0", "type": "quantitative",
                    "axis": {"orient": "top", "values": [-150, -50, 50, 150], "grid": true, "gridColor": "#e4e4e4", "gridWidth": 0.35, "ticks": false, "labels": false, "domain": false, "title": null}}}
                },
                {
                  "data": {"name": "pcaC"},
                  "mark": {"type": "point", "filled": true, "opacity": 1},
                  "encoding": {
                    "x": {"field": "dim1", "type": "quantitative", "axis": null},
                    "y": {"field": "dim2", "type": "quantitative", "axis": null},
                    "color": {"field": "batch", "type": "nominal", "scale": {"range": ["#A51C40", "#1B4C6E"]},
                      "legend": {"title": " ", "orient": "none", "legendX": 192.9, "legendY": 72.2, "symbolSize": 9, "symbolStrokeWidth": 0, "labelFontSize": 7, "labelColor": "#222", "labelOffset": 1.5, "rowPadding": 1.4, "titleFontSize": 8, "titleFontWeight": "bold", "titlePadding": 1.5, "padding": 0}},
                    "shape": {"field": "batch", "type": "nominal", "scale": {"range": ["circle", "triangle"]},
                      "legend": {"title": " ", "orient": "none", "legendX": 192.9, "legendY": 72.2, "symbolSize": 9, "symbolStrokeWidth": 0, "labelFontSize": 7, "labelColor": "#222", "labelOffset": 1.5, "rowPadding": 1.4, "titleFontSize": 8, "titleFontWeight": "bold", "titlePadding": 1.5, "padding": 0}},
                    "size": {"field": "kind", "type": "ordinal", "scale": {"domain": ["ind", "mean"], "range": [8, 30]}, "legend": null}
                  }
                }
              ]
            }
          ]
        }
      ]
    },
    {
      "spacing": 29,
      "resolve": {"scale": {"color": "independent", "fill": "independent", "stroke": "independent", "shape": "independent", "size": "independent"}},
      "vconcat": [
        {
          "width": 343,
          "height": 203,
          "view": {"stroke": "#555", "strokeWidth": 0.9},
          "title": {"text": "B", "anchor": "start", "frame": "bounds", "fontSize": 18, "fontWeight": "normal", "offset": -2, "dx": -22},
          "data": {"name": "boxB"},
          "encoding": {
            "x": {"field": "idx", "type": "ordinal", "scale": {"paddingInner": 0.2, "paddingOuter": 2.17},
              "axis": {"title": null, "labels": false, "domain": false, "grid": false, "ticks": true, "bandPosition": 0.5, "tickSize": 3, "tickColor": "#999", "tickWidth": 0.6}}
          },
          "layer": [
            {
              "mark": {"type": "rule", "strokeDash": [2, 2], "strokeWidth": 0.7, "color": "#111"},
              "encoding": {
                "y": {"field": "q3", "type": "quantitative", "scale": {"domain": [-0.72, 18.72], "nice": false, "zero": false},
                  "axis": {"title": null, "values": [0, 5, 10, 15], "labelAngle": 270, "grid": false, "domain": false, "tickSize": 3, "tickColor": "#444", "tickWidth": 0.7, "labelFontSize": 7.5, "labelColor": "#333", "labelPadding": 2}},
                "y2": {"field": "whisker"}
              }
            },
            {
              "mark": {"type": "rule", "strokeWidth": 3.2, "color": "#000"},
              "encoding": {"y": {"field": "whisker", "type": "quantitative"}, "y2": {"field": "dense"}}
            },
            {
              "mark": {"type": "rule", "strokeWidth": 3, "color": "#222", "strokeDash": [1.5, 0.6]},
              "encoding": {"y": {"field": "dense", "type": "quantitative"}, "y2": {"field": "mid"}}
            },
            {
              "mark": {"type": "rule", "strokeWidth": 2.3, "color": "#333", "strokeDash": [0.1, 4.6], "strokeCap": "round"},
              "encoding": {"y": {"field": "mid", "type": "quantitative"}, "y2": {"field": "top"}}
            },
            {
              "mark": {"type": "bar", "stroke": "#444", "strokeWidth": 0.7},
              "encoding": {
                "y": {"field": "q1", "type": "quantitative"},
                "y2": {"field": "q3"},
                "color": {"field": "batch", "type": "nominal", "scale": {"domain": ["GSE203507", "GSE174415"], "range": ["#9A1A40", "#164B6E"]},
                  "legend": {"orient": "top-right", "offset": 9, "title": null, "symbolType": "square", "symbolSize": 64, "symbolStrokeColor": "#333", "symbolStrokeWidth": 0.6, "labelFontSize": 10, "labelFontWeight": "bold", "labelColor": "#111", "rowPadding": 3, "labelOffset": 7.5, "padding": 0}}
              }
            },
            {
              "mark": {"type": "tick", "thickness": 2, "size": 5, "color": "#000"},
              "encoding": {"y": {"field": "med", "type": "quantitative"}}
            }
          ]
        },
        {
          "width": 343,
          "height": 203,
          "view": {"stroke": "#555", "strokeWidth": 0.9},
          "title": {"text": "D", "anchor": "start", "frame": "bounds", "fontSize": 18, "fontWeight": "normal", "offset": -1, "dx": -22},
          "data": {"name": "boxD"},
          "encoding": {
            "x": {"field": "idx", "type": "ordinal", "scale": {"paddingInner": 0.2, "paddingOuter": 2.17},
              "axis": {"title": null, "labels": false, "domain": false, "grid": false, "ticks": true, "bandPosition": 0.5, "tickSize": 3, "tickColor": "#999", "tickWidth": 0.6}}
          },
          "layer": [
            {
              "mark": {"type": "rule", "strokeDash": [2, 2], "strokeWidth": 0.7, "color": "#111"},
              "encoding": {
                "y": {"field": "q3", "type": "quantitative", "scale": {"domain": [-1.13, 17.95], "nice": false, "zero": false},
                  "axis": {"title": null, "values": [0, 5, 10, 15], "labelAngle": 270, "grid": false, "domain": false, "tickSize": 3, "tickColor": "#444", "tickWidth": 0.7, "labelFontSize": 7.5, "labelColor": "#333", "labelPadding": 2}},
                "y2": {"field": "whisker"}
              }
            },
            {
              "mark": {"type": "rule", "strokeWidth": 3.2, "color": "#000"},
              "encoding": {"y": {"field": "whisker", "type": "quantitative"}, "y2": {"field": "dense"}}
            },
            {
              "mark": {"type": "rule", "strokeWidth": 3, "color": "#666", "strokeDash": [1, 0.6]},
              "encoding": {"y": {"field": "dense", "type": "quantitative"}, "y2": {"field": "grey"}}
            },
            {
              "mark": {"type": "rule", "strokeWidth": 2.6, "color": "#777", "strokeDash": [1, 0.7]},
              "encoding": {"y": {"field": "o2lo", "type": "quantitative"}, "y2": {"field": "o2hi"}}
            },
            {
              "mark": {"type": "rule", "strokeWidth": 2.6, "color": "#777", "strokeDash": [1, 0.7]},
              "encoding": {"y": {"field": "o3lo", "type": "quantitative"}, "y2": {"field": "o3hi"}}
            },
            {
              "mark": {"type": "point", "shape": "circle", "size": 4, "filled": false, "color": "#777", "strokeWidth": 0.6},
              "encoding": {"y": {"field": "low", "type": "quantitative"}}
            },
            {
              "mark": {"type": "bar", "stroke": "#444", "strokeWidth": 0.7},
              "encoding": {
                "y": {"field": "q1", "type": "quantitative"},
                "y2": {"field": "q3"},
                "color": {"field": "batch", "type": "nominal", "scale": {"domain": ["GSE203507", "GSE174415"], "range": ["#9A1A40", "#164B6E"]},
                  "legend": {"orient": "top-right", "offset": 9, "title": null, "symbolType": "square", "symbolSize": 64, "symbolStrokeColor": "#333", "symbolStrokeWidth": 0.6, "labelFontSize": 10, "labelFontWeight": "bold", "labelColor": "#111", "rowPadding": 3, "labelOffset": 7.5, "padding": 0}}
              }
            },
            {
              "mark": {"type": "tick", "thickness": 2, "size": 5, "color": "#000"},
              "encoding": {"y": {"field": "med", "type": "quantitative"}}
            }
          ]
        }
      ]
    }
  ]
}
